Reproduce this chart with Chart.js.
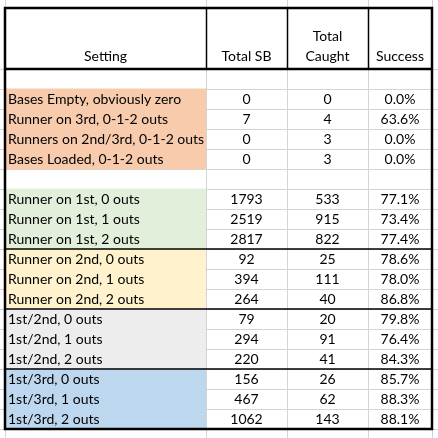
<!DOCTYPE html>
<html>
<head>
<meta charset="utf-8">
<script src="https://cdn.jsdelivr.net/npm/chart.js@4"></script>
<style>
  html, body { margin: 0; padding: 0; background: #fff; }
  #wrap { width: 438px; height: 438px; }
</style>
</head>
<body>
<div id="wrap"><canvas id="tbl"></canvas></div>
<script>
// table data
const headers = [['Setting'], ['Total SB'], ['Total', 'Caught'], ['Success']];
const settings = [
  '',
  'Bases Empty, obviously zero', 'Runner on 3rd, 0-1-2 outs', 'Runners on 2nd/3rd, 0-1-2 outs', 'Bases Loaded, 0-1-2 outs',
  '',
  'Runner on 1st, 0 outs', 'Runner on 1st, 1 outs', 'Runner on 1st, 2 outs',
  'Runner on 2nd, 0 outs', 'Runner on 2nd, 1 outs', 'Runner on 2nd, 2 outs',
  '1st/2nd, 0 outs', '1st/2nd, 1 outs', '1st/2nd, 2 outs',
  '1st/3rd, 0 outs', '1st/3rd, 1 outs', '1st/3rd, 2 outs'
];
const totalSB = [null, 0, 7, 0, 0, null, 1793, 2519, 2817, 92, 394, 264, 79, 294, 220, 156, 467, 1062];
const totalCaught = [null, 0, 4, 3, 3, null, 533, 915, 822, 25, 111, 40, 20, 91, 41, 26, 62, 143];
const success = [null, 0.0, 63.6, 0.0, 0.0, null, 77.1, 73.4, 77.4, 78.6, 78.0, 86.8, 79.8, 76.4, 84.3, 85.7, 88.3, 88.1];
const groups = [null, 'a', 'a', 'a', 'a', null, 'b', 'b', 'b', 'c', 'c', 'c', 'd', 'd', 'd', 'e', 'e', 'e'];
const groupColors = { a: '#F8CBAD', b: '#E2EFDA', c: '#FFF2CC', d: '#EDEDED', e: '#BDD7EE' };

// layout in scale units
const colEdges = [5, 206, 287, 368, 432];
const headerRows = 3.05;
const groupBreaks = [9, 12, 15];

const tablePlugin = {
  id: 'tablePlugin',
  beforeDraw(chart) {
    const ctx = chart.ctx, xs = chart.scales.x, ys = chart.scales.y;
    const X = v => xs.getPixelForValue(v), Y = v => ys.getPixelForValue(v);
    const rowTop = r => Y(headerRows + r), rowBot = r => Y(headerRows + r + 1);
    const nRows = settings.length;
    ctx.save();
    ctx.fillStyle = '#fff';
    ctx.fillRect(0, 0, chart.width, chart.height);

    // excel gridlines
    ctx.strokeStyle = '#D4D4D4';
    ctx.lineWidth = 1;
    colEdges.forEach(c => { ctx.beginPath(); ctx.moveTo(Math.round(X(c)) + 0.5, 0); ctx.lineTo(Math.round(X(c)) + 0.5, chart.height); ctx.stroke(); });
    for (let r = 0; r <= nRows + 1; r++) {
      const y = Math.round(rowTop(r)) + 0.5;
      ctx.beginPath(); ctx.moveTo(0, y); ctx.lineTo(chart.width, y); ctx.stroke();
    }
    // white header cell (tall row, no inner lines)
    ctx.fillStyle = '#fff';
    ctx.fillRect(X(colEdges[0]) + 1, Y(0), X(colEdges[4]) - X(colEdges[0]) - 1, Y(headerRows) - Y(0));
    for (let i = 1; i < 4; i++) {
      ctx.beginPath(); ctx.moveTo(Math.round(X(colEdges[i])) + 0.5, Y(0)); ctx.lineTo(Math.round(X(colEdges[i])) + 0.5, Y(headerRows)); ctx.stroke();
    }

    // colored setting cells
    settings.forEach((s, r) => {
      if (!groups[r]) return;
      ctx.fillStyle = groupColors[groups[r]];
      ctx.fillRect(X(colEdges[0]), rowTop(r) - 0.5, X(colEdges[1]) - X(colEdges[0]), rowBot(r) - rowTop(r) + 1);
    });

    // text
    ctx.fillStyle = '#000';
    ctx.font = '14px Lato, "Open Sans", sans-serif';
    ctx.textBaseline = 'alphabetic';
    ctx.textAlign = 'center';
    headers.forEach((lines, c) => {
      const cx = (X(colEdges[c]) + X(colEdges[c + 1])) / 2;
      lines.forEach((t, k) => ctx.fillText(t, cx, Y(headerRows) - 8 - (lines.length - 1 - k) * 20));
    });
    settings.forEach((s, r) => {
      const base = (rowTop(r) + rowBot(r)) / 2 + 5;
      if (s) { ctx.textAlign = 'left'; ctx.fillText(s, X(colEdges[0]) + 3, base); }
      const vals = [totalSB[r], totalCaught[r], success[r] === null ? null : success[r].toFixed(1) + '%'];
      ctx.textAlign = 'center';
      vals.forEach((v, k) => {
        if (v === null) return;
        ctx.fillText(String(v), (X(colEdges[k + 1]) + X(colEdges[k + 2])) / 2, base);
      });
    });

    // black borders
    ctx.strokeStyle = '#000';
    ctx.lineWidth = 1.5;
    groupBreaks.forEach(r => {
      ctx.beginPath(); ctx.moveTo(X(colEdges[0]), rowTop(r)); ctx.lineTo(X(colEdges[4]), rowTop(r)); ctx.stroke();
    });
    for (let i = 1; i < 4; i++) {
      ctx.beginPath(); ctx.moveTo(Math.round(X(colEdges[i])) + 0.5, Y(0)); ctx.lineTo(Math.round(X(colEdges[i])) + 0.5, Y(headerRows)); ctx.lineWidth = 1.5; ctx.stroke();
    }
    ctx.lineWidth = 2.5;
    ctx.beginPath(); ctx.moveTo(X(colEdges[0]), Y(headerRows)); ctx.lineTo(X(colEdges[4]), Y(headerRows)); ctx.stroke();
    ctx.strokeRect(X(colEdges[0]), Y(0), X(colEdges[4]) - X(colEdges[0]), rowBot(nRows - 1) - Y(0));
    ctx.restore();
  }
};

new Chart(document.getElementById('tbl'), {
  type: 'scatter',
  data: { datasets: [{ data: [], pointRadius: 0 }] },
  options: {
    responsive: true,
    maintainAspectRatio: false,
    animation: false,
    layout: { padding: 0 },
    plugins: { legend: { display: false }, tooltip: { enabled: false } },
    scales: {
      x: { type: 'linear', min: 0, max: 438, display: false },
      y: { type: 'linear', min: -0.4, max: 21.5, reverse: true, display: false }
    }
  },
  plugins: [tablePlugin]
});
</script>
</body>
</html>
